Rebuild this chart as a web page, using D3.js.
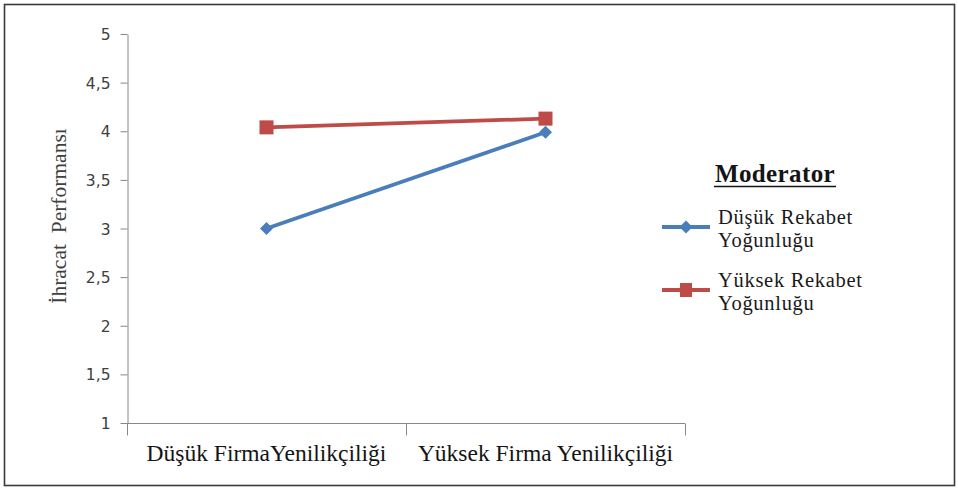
<!DOCTYPE html>
<html><head><meta charset="utf-8">
<script src="https://cdn.jsdelivr.net/npm/d3@7"></script>
<style>html,body{margin:0;padding:0;background:#fff;}svg{display:block;}</style>
</head><body>
<svg id="chart" width="958" height="489"></svg>
<script>
const categories = ["Düşük FirmaYenilikçiliği", "Yüksek Firma Yenilikçiliği"];
const seriesNames = ["Düşük Rekabet Yoğunluğu", "Yüksek Rekabet Yoğunluğu"];
const legendLines = [["Düşük Rekabet", "Yoğunluğu"], ["Yüksek Rekabet", "Yoğunluğu"]];
const lowCompetition = [3.0, 3.99];
const highCompetition = [4.04, 4.13];
const yTicks = [1, 1.5, 2, 2.5, 3, 3.5, 4, 4.5, 5];
const yTitle = "İhracat\u00a0 Performansı";
const legendTitle = "Moderator";
const colors = ["#4A7EBB", "#BE4B48"];

const svg = d3.select("#chart");
svg.append("rect").attr("x", 4.5).attr("y", 4.5).attr("width", 950).attr("height", 481)
  .attr("fill", "#fff").attr("stroke", "#3a3a3a").attr("stroke-width", 1.6);

const x = d3.scaleBand().domain(categories).range([127, 685]).padding(0);
const y = d3.scaleLinear().domain([1, 5]).range([423, 34]);
const axisColor = "#888";

// Y axis
const yAxis = svg.append("g").attr("transform", "translate(127.5,0)")
  .call(d3.axisLeft(y).tickValues(yTicks).tickSize(7).tickSizeOuter(0).tickPadding(10)
    .tickFormat(d => String(d).replace(".", ",")));
yAxis.select(".domain").attr("stroke", axisColor);
yAxis.selectAll(".tick line").attr("stroke", axisColor);
yAxis.selectAll(".tick text").attr("font-family", "DejaVu Sans").attr("font-size", 15.5)
  .attr("fill", "#404040").attr("dy", "0.36em");

// X axis (line + boundary ticks)
const xg = svg.append("g").attr("transform", "translate(0,423.5)");
xg.append("line").attr("x1", x.range()[0]).attr("x2", x.range()[1]).attr("stroke", axisColor);
const bounds = categories.map(c => x(c)).concat([x.range()[1]]);
xg.selectAll("line.tk").data(bounds).join("line").attr("class", "tk")
  .attr("x1", d => d + 0.5).attr("x2", d => d + 0.5).attr("y1", 0).attr("y2", 12).attr("stroke", axisColor);
xg.selectAll("text").data(categories).join("text")
  .attr("x", d => x(d) + x.bandwidth() / 2).attr("y", 37)
  .attr("text-anchor", "middle").attr("font-family", "Liberation Serif").attr("font-size", 23.5)
  .attr("fill", "#141414").text(d => d);

// Y title
svg.append("text").attr("transform", "translate(66,216) rotate(-90)")
  .attr("text-anchor", "middle").attr("font-family", "Liberation Serif").attr("font-size", 21.5)
  .attr("fill", "#404040").text(yTitle);

const cx = c => x(c) + x.bandwidth() / 2;
const line = d3.line().x((d, i) => cx(categories[i])).y(d => y(d));
const diamond = d3.symbol().type(d3.symbolSquare).size(85);

// Series
[lowCompetition, highCompetition].forEach((vals, si) => {
  svg.append("path").datum(vals).attr("d", line).attr("fill", "none")
    .attr("stroke", colors[si]).attr("stroke-width", 3.8);
});
svg.selectAll("path.dm").data(lowCompetition).join("path").attr("class", "dm")
  .attr("transform", (d, i) => `translate(${cx(categories[i])},${y(d)}) rotate(45)`)
  .attr("d", diamond).attr("fill", colors[0]);
svg.selectAll("rect.sq").data(highCompetition).join("rect").attr("class", "sq")
  .attr("x", (d, i) => cx(categories[i]) - 7).attr("y", d => y(d) - 7)
  .attr("width", 14).attr("height", 14).attr("fill", colors[1]);

// Legend
const lg = svg.append("g");
lg.append("text").attr("x", 775).attr("y", 182).attr("text-anchor", "middle")
  .attr("font-family", "Liberation Serif").attr("font-weight", "bold").attr("font-size", 25)
  .attr("letter-spacing", 0.4).attr("fill", "#141414").text(legendTitle);
lg.append("line").attr("x1", 714).attr("x2", 836).attr("y1", 186.5).attr("y2", 186.5)
  .attr("stroke", "#141414").attr("stroke-width", 1.5);
const legY = [227, 290];
seriesNames.forEach((name, i) => {
  lg.append("line").attr("x1", 662).attr("x2", 710).attr("y1", legY[i]).attr("y2", legY[i])
    .attr("stroke", colors[i]).attr("stroke-width", 3.8);
  if (i === 0) {
    lg.append("path").attr("transform", `translate(686,${legY[i]}) rotate(45)`).attr("d", diamond).attr("fill", colors[i]);
  } else {
    lg.append("rect").attr("x", 680).attr("y", legY[i] - 7).attr("width", 12).attr("height", 14).attr("fill", colors[i]);
  }
  const t = lg.append("text").attr("font-family", "Liberation Serif").attr("font-size", 20.5)
    .attr("letter-spacing", 0.7).attr("fill", "#1a1a1a");
  legendLines[i].forEach((ln, j) => {
    t.append("tspan").attr("x", 718).attr("y", legY[i] - 3 + j * 23).text(ln);
  });
});
</script>
</body></html>
